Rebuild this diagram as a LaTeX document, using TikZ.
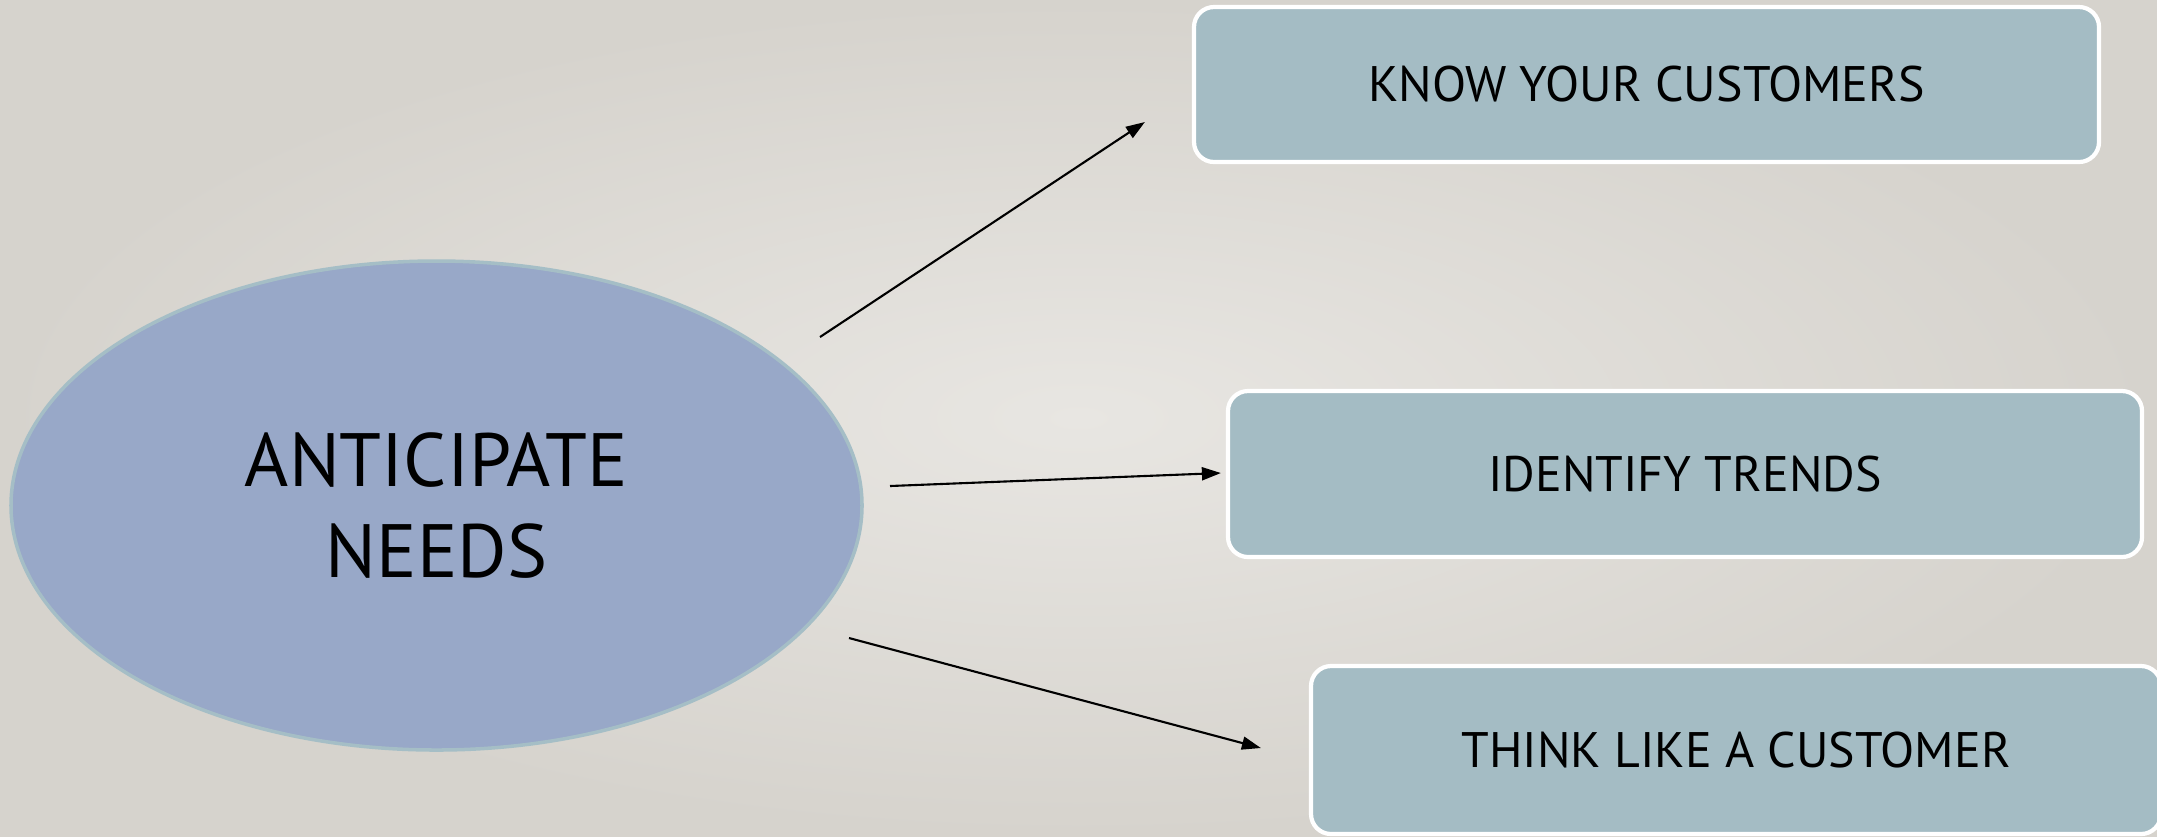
\documentclass[tikz,border=0pt]{standalone}
\usepackage{fontspec}
\setmainfont{PT Sans}
\definecolor{slideBgIn}{RGB}{232,230,226}
\definecolor{slideBgOut}{RGB}{214,211,205}
\definecolor{needFill}{RGB}{152,168,200}
\definecolor{needEdge}{RGB}{165,190,198}
\definecolor{cardFill}{RGB}{164,188,196}
\usetikzlibrary{arrows.meta,positioning,shapes.geometric,calc}

\begin{document}
\begin{tikzpicture}[
  card/.style={draw=white, line width=1.2pt, fill=cardFill, rounded corners=0.2cm,
               inner sep=0pt, font=\fontsize{14.2}{17}\selectfont, align=center},
  need/.style={ellipse, draw=needEdge, line width=1pt, fill=needFill, inner sep=0pt,
               minimum width=8.51cm, minimum height=4.89cm,
               font=\fontsize{21.5}{26}\selectfont, align=center},
  link/.style={line width=0.6pt, -{Triangle[length=0.19cm, width=0.13cm]}}
]
  \useasboundingbox (0,0) rectangle (21.57,-8.36);
  \shade[inner color=slideBgIn, outer color=slideBgOut] (0,0) rectangle (21.57,-8.36);

  % centre idea
  \node[need] (need) at (4.365,-5.055) {ANTICIPATE\\NEEDS};

  % three cards
  \node[card, minimum width=9.05cm, minimum height=1.55cm] (know)  at (16.465,-0.845) {KNOW YOUR CUSTOMERS};
  \node[card, minimum width=9.14cm, minimum height=1.66cm] (trend) at (16.85,-4.74)   {IDENTIFY TRENDS};
  \node[card, minimum width=8.50cm, minimum height=1.68cm] (think) at (17.36,-7.50)   {THINK LIKE A CUSTOMER};

  % arrow ends
  \coordinate (know-from)  at (8.20,-3.37);
  \coordinate (trend-from) at (8.90,-4.86);
  \coordinate (think-from) at (8.49,-6.38);
  \coordinate (know-to)    at ($(know.west)+(-0.47,-0.375)$);
  \coordinate (trend-to)   at ($(trend.west)+(-0.05,0.01)$);
  \coordinate (think-to)   at ($(think.west)+(-0.48,0.02)$);

  \draw[link] (know-from)  -- (know-to);
  \draw[link] (trend-from) -- (trend-to);
  \draw[link] (think-from) -- (think-to);
\end{tikzpicture}
\end{document}
